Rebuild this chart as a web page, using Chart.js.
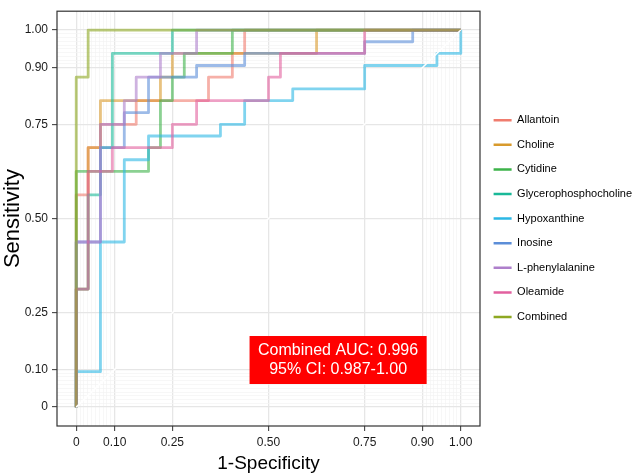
<!DOCTYPE html>
<html>
<head>
<meta charset="utf-8">
<script src="https://cdn.jsdelivr.net/npm/chart.js@4.4.1/dist/chart.umd.min.js"></script>
<style>
  html, body { margin: 0; padding: 0; background: #fff; }
  #wrap { width: 634px; height: 475px; }
</style>
</head>
<body>
<div id="wrap"><canvas id="rocChart"></canvas></div>
<script>
// ROC curves: 1-specificity (fpr) and sensitivity (tpr)
const metabolites = ['Allantoin', 'Choline', 'Cytidine', 'Glycerophosphocholine', 'Hypoxanthine',
    'Inosine', 'L-phenylalanine', 'Oleamide', 'Combined'];

const allantoinFpr = [0, 0, .031, .031, .063, .063, .156, .156, .344, .344, .406, .406, .438, .438, 1];
const allantoinTpr = [0, .563, .563, .688, .688, .75, .75, .813, .813, .875, .875, .938, .938, 1, 1];

const cholineFpr = [0, 0, .031, .031, .063, .063, .219, .219, .25, .25, .625, .625, 1];
const cholineTpr = [0, .313, .313, .688, .688, .813, .813, .875, .875, .938, .938, 1, 1];

const cytidineFpr = [0, 0, .188, .188, .219, .219, .25, .25, .281, .281, .406, .406, 1];
const cytidineTpr = [0, .625, .625, .688, .688, .813, .813, .875, .875, .938, .938, 1, 1];

const gpcFpr = [0, 0, .031, .031, .063, .063, .094, .094, .25, .25, 1];
const gpcTpr = [0, .313, .313, .563, .563, .688, .688, .938, .938, 1, 1];

const hypoxanthineFpr = [0, 0, .063, .063, .125, .125, .188, .188, .375, .375, .438, .438, .563, .563, .75, .75, .938, .938, 1, 1];
const hypoxanthineTpr = [0, .094, .094, .438, .438, .656, .656, .719, .719, .75, .75, .813, .813, .844, .844, .906, .906, .938, .938, 1];

const inosineFpr = [0, 0, .063, .063, .125, .125, .188, .188, .313, .313, .438, .438, .75, .75, .875, .875, 1];
const inosineTpr = [0, .438, .438, .688, .688, .781, .781, .875, .875, .906, .906, .938, .938, .969, .969, 1, 1];

const pheFpr = [0, 0, .063, .063, .125, .125, .156, .156, .219, .219, .313, .313, 1];
const pheTpr = [0, .438, .438, .75, .75, .813, .813, .875, .875, .938, .938, 1, 1];

const oleamideFpr = [0, 0, .031, .031, .094, .094, .25, .25, .313, .313, .5, .5, .531, .531, .75, .75, 1];
const oleamideTpr = [0, .313, .313, .625, .625, .688, .688, .75, .75, .813, .813, .875, .875, .938, .938, 1, 1];

const combinedFpr = [0, 0, .031, .031, 1];
const combinedTpr = [0, .875, .875, 1, 1];

const rocFpr = [allantoinFpr, cholineFpr, cytidineFpr, gpcFpr, hypoxanthineFpr, inosineFpr, pheFpr, oleamideFpr, combinedFpr];
const rocTpr = [allantoinTpr, cholineTpr, cytidineTpr, gpcTpr, hypoxanthineTpr, inosineTpr, pheTpr, oleamideTpr, combinedTpr];

// axis breaks (plotROC style: dense minor lines near both ends)
const majorBreaks = [0, 0.10, 0.25, 0.50, 0.75, 0.90, 1.00];
const minorBreaks = [0.01, 0.02, 0.03, 0.04, 0.05, 0.06, 0.07, 0.08, 0.09,
    0.91, 0.92, 0.93, 0.94, 0.95, 0.96, 0.97, 0.98, 0.99];

const aucText = ['Combined AUC: 0.996', '95% CI: 0.987-1.00'];

const keyColors = ['#F07C6E', '#D89A2C', '#3DB34A', '#19B998', '#2BB7E5', '#5C8ED8', '#AE7FCB', '#E2609F', '#8EA822'];
const lineAlpha = 0.6;

const FONT = "'Liberation Sans', Arial, sans-serif";

function withAlpha(hex, a) {
    const n = parseInt(hex.slice(1), 16);
    return `rgba(${(n >> 16) & 255}, ${(n >> 8) & 255}, ${n & 255}, ${a})`;
}

const datasets = metabolites.map((name, i) => ({
    label: name,
    data: rocFpr[i].map((fx, j) => ({ x: fx, y: rocTpr[i][j] })),
    borderColor: withAlpha(keyColors[i], lineAlpha),
    keyColor: keyColors[i],
    borderWidth: 2.8,
    borderJoinStyle: 'round',
    showLine: true,
    pointRadius: 0,
    tension: 0,
    order: metabolites.length - i   // later groups drawn on top, like ggplot
}));

// white reference diagonal on top of everything
datasets.push({
    label: '',
    data: [{ x: 0, y: 0 }, { x: 1, y: 1 }],
    borderColor: '#ffffff',
    borderWidth: 1.5,
    showLine: true,
    pointRadius: 0,
    order: 0
});

function isMajor(v) { return majorBreaks.includes(v); }

function axisOptions(titleText, isX) {
    return {
        type: 'linear',
        position: isX ? 'bottom' : 'left',
        min: -0.05,
        max: 1.05,
        afterBuildTicks: scale => {
            scale.ticks = majorBreaks.concat(minorBreaks).map(v => ({ value: v }));
        },
        afterFit: scale => {
            if (isX) scale.height = 49; else scale.width = 57;
        },
        ticks: {
            autoSkip: false,
            maxRotation: 0,
            padding: isX ? 4 : 4,
            color: '#1a1a1a',
            font: { family: FONT, size: 12 },
            callback: v => isMajor(v) ? (v === 0 ? '0' : v.toFixed(2)) : ''
        },
        grid: {
            color: ctx => isMajor(ctx.tick.value) ? '#E6E6E6' : '#F3F3F3',
            lineWidth: ctx => isMajor(ctx.tick.value) ? 1.3 : 0.7,
            drawTicks: true,
            tickLength: 5,
            tickColor: ctx => isMajor(ctx.tick.value) ? '#333333' : 'rgba(0,0,0,0)',
            tickWidth: 1
        },
        border: { display: false },
        title: {
            display: true,
            text: titleText,
            color: '#000',
            font: { family: FONT, size: isX ? 19 : 22 },
            padding: 0
        }
    };
}

// panel border + red AUC label
const panelPlugin = {
    id: 'panelExtras',
    afterDatasetsDraw(chart) {
        const { ctx, chartArea: a, scales: { x, y } } = chart;
        ctx.save();
        ctx.strokeStyle = '#333333';
        ctx.lineWidth = 1.2;
        ctx.strokeRect(a.left, a.top, a.right - a.left, a.bottom - a.top);

        const cx = x.getPixelForValue(0.681);
        const cy = y.getPixelForValue(0.125);
        ctx.font = `16px ${FONT}`;
        const lineH = 19;
        const w = Math.max(...aucText.map(t => ctx.measureText(t).width)) + 17;
        const h = lineH * aucText.length + 10;
        ctx.fillStyle = '#FF0000';
        ctx.fillRect(cx - w / 2, cy - h / 2, w, h);
        ctx.fillStyle = '#ffffff';
        ctx.textAlign = 'center';
        ctx.textBaseline = 'middle';
        aucText.forEach((t, i) => {
            ctx.fillText(t, cx, cy - h / 2 + 5 + lineH * (i + 0.5));
        });
        ctx.restore();
    }
};

new Chart(document.getElementById('rocChart'), {
    type: 'scatter',
    data: { datasets },
    options: {
        responsive: true,
        maintainAspectRatio: false,
        animation: false,
        devicePixelRatio: 1,
        layout: { padding: { top: 3, right: 0, bottom: 0, left: 0 } },
        scales: {
            x: axisOptions('1-Specificity', true),
            y: axisOptions('Sensitivity', false)
        },
        plugins: {
            tooltip: { enabled: false },
            legend: {
                position: 'right',
                fullSize: false,
                maxWidth: 154,
                labels: {
                    usePointStyle: true,
                    pointStyle: 'line',
                    pointStyleWidth: 18,
                    boxHeight: 11,
                    padding: 13.6,
                    color: '#1a1a1a',
                    font: { family: FONT, size: 11 },
                    generateLabels: chart => chart.data.datasets
                        .map((ds, i) => ({
                            text: ds.label,
                            strokeStyle: ds.keyColor,
                            fillStyle: ds.keyColor,
                            lineWidth: 2.5,
                            pointStyle: 'line',
                            hidden: false,
                            datasetIndex: i
                        }))
                        .filter(item => item.text)
                }
            }
        }
    },
    plugins: [panelPlugin]
});
</script>
</body>
</html>
